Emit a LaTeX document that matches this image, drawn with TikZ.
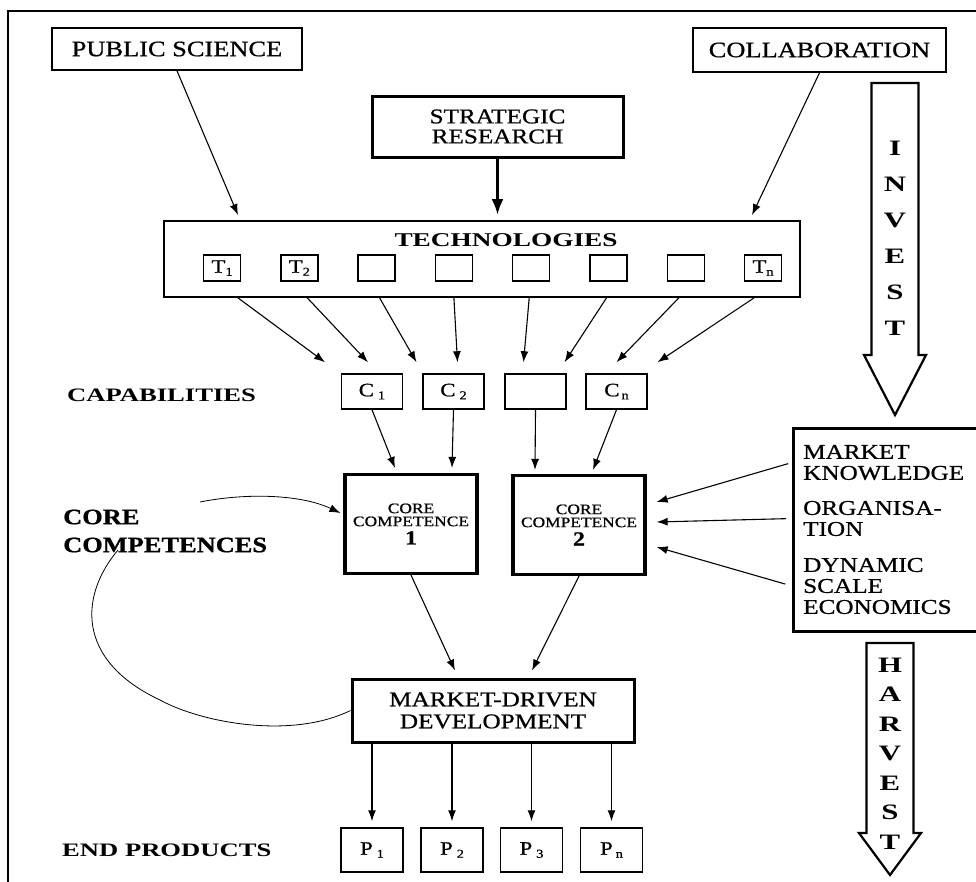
\documentclass[tikz,border=0pt]{standalone}
\usepackage{fontspec}
\setmainfont{Liberation Serif}[FakeStretch=1.2, FakeBold=0.8]
\newfontfamily\widefont{Liberation Serif}[FakeStretch=1.4]
\usetikzlibrary{arrows.meta,calc}
\newcommand\subl[3]{#1\kern#3\raisebox{-3pt}{\fontsize{12}{12}\selectfont #2}}
\begin{document}
\begin{tikzpicture}[x=1pt,y=-1pt,line join=miter,
  box/.style={draw, line width=1.6pt, inner sep=0pt, align=center, font=\fontsize{22}{20}\selectfont},
  tbox/.style={draw, line width=3pt, inner sep=0pt, align=center, font=\fontsize{21}{22}\selectfont},
  sbox/.style={draw, line width=1.5pt, inner sep=0pt, minimum width=37, minimum height=26, font=\fontsize{19}{19}\selectfont},
  cbox/.style={draw, line width=1.5pt, inner sep=0pt, minimum width=61, minimum height=35, font=\fontsize{19}{19}\selectfont},
  pbox/.style={draw, line width=1.5pt, inner sep=0pt, minimum width=62, minimum height=44, font=\fontsize{19}{19}\selectfont},
  ccbox/.style={draw, line width=3.2pt, inner sep=0pt, minimum width=132, minimum height=99, align=center, font=\fontsize{14.5}{13}\selectfont},
  arr/.style={-{Latex[length=11pt,width=8pt]}, line width=1.1pt},
  lab/.style={font=\widefont\bfseries\fontsize{19}{19}\selectfont, anchor=west, inner sep=0pt},
  mtxt/.style={font=\fontsize{21}{21}\selectfont, anchor=west, inner sep=0pt, align=left},
  arrowbody/.style={draw, line width=2.2pt},
  letters/.style={inner sep=0pt, align=center}
]
\useasboundingbox (0,0) rectangle (976,881);
\clip (0,0) rectangle (976,881);
% frame
\draw[line width=2pt] (8,900) -- (8,11) -- (1000,11);

% top boxes
\node[box, minimum width=250, minimum height=42] (ps) at (177,49) {PUBLIC SCIENCE};
\node[box, line width=3pt, minimum width=251, minimum height=61, font=\fontsize{21}{20}\selectfont] (sr) at (497.5,126.5) {STRATEGIC\\RESEARCH};
\node[box, minimum width=253, minimum height=44] (coll) at (819.5,50) {COLLABORATION};

% technologies
\node[draw, line width=1.8pt, minimum width=636, minimum height=76, inner sep=0pt] (tech) at (482,259) {};
\node[inner sep=0pt, font=\widefont\bfseries\fontsize{19.5}{19.5}\selectfont] (techt) at (506,240) {TECHNOLOGIES};
\node[sbox] (t1) at (222,268) {\subl{T}{1}{0pt}};
\node[sbox] (t2) at (299.3,268) {\subl{T}{2}{0pt}};
\node[sbox] (t3) at (376.6,268) {};
\node[sbox] (t4) at (453.9,268) {};
\node[sbox] (t5) at (531.2,268) {};
\node[sbox] (t6) at (608.5,268) {};
\node[sbox] (t7) at (685.8,268) {};
\node[sbox] (t8) at (763,268) {\subl{T}{n}{0pt}};

\draw[arr] (ps.south) -- ($(tech.north -| t1)+(16,-5)$);
\draw[line width=3.5pt, -{Latex[length=16pt,width=12pt]}] (sr.south) -- ($(sr.south |- tech.north)+(0,-5)$);
\draw[arr] (coll.south) -- ($(tech.north -| t8)+(-11,-5)$);

% capabilities
\node[cbox] (c1) at (372,391.5) {\subl{C}{1}{4pt}};
\node[cbox] (c2) at (453.5,391.5) {\subl{C}{2}{4pt}};
\node[cbox] (c3) at (535.5,391.5) {};
\node[cbox] (c4) at (616.5,391.5) {\subl{C}{n}{2pt}};

\draw[arr] ($(tech.south -| t1)+(16,0)$) -- ($(c1.north)+(-47,-11)$);
\draw[arr] ($(tech.south -| t2)+(8,0)$) -- ($(c1.north)+(-4,-11)$);
\draw[arr] ($(tech.south -| t3)+(3,0)$) -- ($(c2.north)+(-37,-11)$);
\draw[arr] ($(tech.south -| t4)+(0,0)$) -- ($(c2.north)+(4,-11)$);
\draw[arr] ($(tech.south -| t5)+(-2,0)$) -- ($(c3.north)+(-12,-11)$);
\draw[arr] ($(tech.south -| t6)+(-2,0)$) -- ($(c3.north)+(29,-11)$);
\draw[arr] ($(tech.south -| t7)+(-7,0)$) -- ($(c4.north)+(0,-11)$);
\draw[arr] ($(tech.south -| t8)+(-9,0)$) -- ($(c4.north)+(41,-11)$);

% core competences
\node[ccbox] (cc1) at (411,524) {CORE\\COMPETENCE\\[4pt]{\fontsize{20}{20}\selectfont\bfseries 1}};
\node[ccbox] (cc2) at (579,525) {CORE\\COMPETENCE\\[4pt]{\fontsize{20}{20}\selectfont\bfseries 2}};

\draw[arr] (c1.south) -- ($(cc1.north)+(-16,-5)$);
\draw[arr] (c2.south) -- ($(cc1.north)+(41,-5)$);
\draw[arr] (c3.south) -- ($(cc2.north)+(-44,-4)$);
\draw[arr] (c4.south) -- ($(cc2.north)+(14,-4)$);

% market box
\node[draw, line width=3pt, minimum width=215, minimum height=203, inner sep=0pt, anchor=north west] (mk) at (792,427) {};
\node[mtxt] (mk1) at (803,462.5) {MARKET\\KNOWLEDGE};
\node[mtxt] (mk2) at (803,518.5) {ORGANISA-\\TION};
\node[mtxt] (mk3) at (803,586) {DYNAMIC\\SCALE\\ECONOMICS};

\draw[arr, shorten <=4pt] (mk.west |- mk1) -- ($(cc2.east)+(10,-23)$);
\draw[arr, shorten <=6pt] (mk.west |- mk2) -- ($(cc2.east)+(10,-3)$);
\draw[arr, shorten <=7pt] (mk.west |- mk3) -- ($(cc2.east)+(10,22)$);

% market-driven development
\node[tbox, minimum width=282, minimum height=63] (mdd) at (493,710.5) {MARKET-DRIVEN\\DEVELOPMENT};
\draw[arr] (cc1.south) -- ($(mdd.north)+(-38,-7)$);
\draw[arr] (cc2.south) -- ($(mdd.north)+(39,-7)$);

% end products
\node[pbox] (p1) at (372,850) {\subl{P}{1}{4pt}};
\node[pbox] (p2) at (452,850) {\subl{P}{2}{4pt}};
\node[pbox] (p3) at (531.5,850) {\subl{P}{3}{4pt}};
\node[pbox] (p4) at (611.5,850) {\subl{P}{n}{3pt}};
\foreach \p in {p1,p2,p3,p4}{
  \draw[arr] (mdd.south -| \p) -- ($(\p.north)+(0,-6)$);
}

% left labels
\node[lab] (capl) at (67,395) {CAPABILITIES};
\node[inner sep=0pt, anchor=west, align=left, font=\bfseries\fontsize{22}{28}\selectfont] (corel) at (63,531) {CORE\\COMPETENCES};
\node[lab] (endl) at (62,850) {END PRODUCTS};

% loop curves
\coordinate (ca) at (200,502);
\draw[arr, line width=0.8pt] (ca) .. controls (245,493) and (300,494) .. ($(cc1.west)+(-3,-11)$);
\coordinate (cb) at (118,550);
\coordinate (cm) at (160,700);
\draw[line width=0.8pt] (cb) .. controls (80,595) and (75,660) .. (cm) .. controls (200,722) and (290,740) .. (mdd.west);

% INVEST arrow
\draw[arrowbody] (871.5,83) -- (918.5,83) -- (918.5,355) -- (926,355) -- (895,415) -- (864,355) -- (871.5,355) -- cycle;
\node[letters, font=\widefont\bfseries\fontsize{22}{36}\selectfont] (inv) at (895,238) {I\\N\\V\\E\\S\\T};

% HARVEST arrow
\draw[arrowbody] (866.5,643) -- (913.5,643) -- (913.5,833) -- (921,833) -- (890,875) -- (859,833) -- (866.5,833) -- cycle;
\node[letters, font=\widefont\bfseries\fontsize{22}{29.5}\selectfont] (harv) at (890,753.5) {H\\A\\R\\V\\E\\S\\T};
\end{tikzpicture}
\end{document}
